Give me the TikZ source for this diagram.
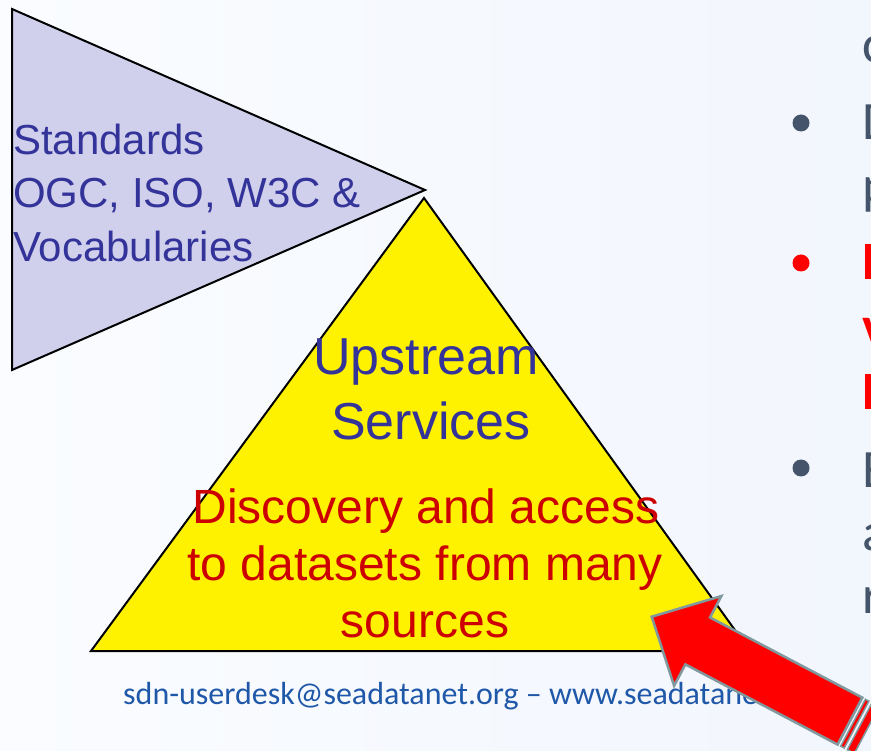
\documentclass[tikz,border=0pt]{standalone}
\usepackage{fontspec}
\setmainfont{Liberation Sans}
\newfontfamily\calib{Carlito}
\definecolor{bgl}{RGB}{250,252,255}
\definecolor{bgr}{RGB}{242,246,253}
\definecolor{lav}{RGB}{208,208,237}
\definecolor{dblue}{RGB}{51,51,153}
\definecolor{dred}{RGB}{204,0,0}
\definecolor{slate}{RGB}{68,84,106}
\definecolor{brightred}{RGB}{255,0,0}
\definecolor{footblue}{RGB}{31,88,168}
\definecolor{arrowgray}{RGB}{128,153,158}
\tikzset{
  tri/.style={draw=black, line width=2pt, line join=miter},
  lbl/.style={inner sep=0pt, anchor=base},
  lbll/.style={inner sep=0pt, anchor=base west},
  stdtxt/.style={lbll, text=dblue, font=\fontsize{42}{50}\selectfont},
  upstxt/.style={lbl, text=dblue, font=\fontsize{52}{62}\selectfont},
  redtxt/.style={lbl, text=dred, font=\fontsize{48}{57}\selectfont},
  rtxt/.style={lbll, text=slate, font=\calib\fontsize{54}{64}\selectfont},
  rtxtred/.style={lbll, text=brightred, font=\calib\bfseries\fontsize{54}{64}\selectfont},
  bul/.style={circle, inner sep=0pt, minimum size=17pt, fill=slate},
  bulred/.style={bul, fill=brightred},
  bigarrow/.style={draw=arrowgray, fill=brightred, line width=2.5pt, line join=miter},
  stripe/.style={draw=arrowgray, fill=brightred, line width=1.5pt, line join=miter}
}
\begin{document}
\begin{tikzpicture}[x=1pt,y=-1pt]
\useasboundingbox (0,0) rectangle (871,751);
\clip (0,0) rectangle (871,751);
\shade[left color=bgl, right color=bgr] (0,0) rectangle (871,751);

% triangles
\draw[tri, fill=lav] (12,9) -- (12,370) -- (425,190) -- cycle;
\draw[tri, fill=yellow] (424,198) -- (750,651) -- (91,651) -- cycle;

% standards text
\node[stdtxt] (std1) at (13,155) {Standards};
\node[stdtxt] (std2) at (13,208) {OGC, ISO, W3C \&};
\node[stdtxt] (std3) at (13,262) {Vocabularies};

% upstream services
\node[upstxt] (up1) at (426,375) {Upstream};
\node[upstxt] (up2) at (431,440) {Services};
\node[redtxt] (rd1) at (426,523) {Discovery and access};
\node[redtxt] (rd2) at (425,580) {to datasets from many};
\node[redtxt] (rd3) at (425,637) {sources};

% right side clipped text
\node[rtxt] (r1) at (862,63) {c};
\node[bul] (b1) at (801,123) {};
\node[rtxt] (r2) at (862,140) {D};
\node[rtxt] (r3) at (862,204) {p};
\node[bulred] (b2) at (801,263) {};
\node[rtxtred] (r4) at (862,280) {H};
\node[rtxtred] (r5) at (862,345) {v};
\node[rtxtred] (r6) at (862,410) {H};
\node[bul] (b3) at (801,468) {};
\node[rtxt] (r7) at (862,488) {E};
\node[rtxt] (r8) at (862,550) {a};
\node[rtxt] (r9) at (862,613) {r};

% footer
\node[lbll, text=footblue, font=\calib\fontsize{32}{38}\selectfont] (foot) at (123,704)
  {sdn-userdesk@seadatanet.org – www.seadatanet.org};

% striped arrow
\begin{scope}[shift={(651.7,616.7)}, x={(0.885pt,-0.466pt)}, y={(-0.466pt,-0.885pt)}]
  \draw[bigarrow] (0,0) -- (52,-50.7) -- (52,-26.5) -- (224,-26.5) -- (224,26.5)
     -- (52,26.5) -- (52,50.7) -- cycle;
  \draw[stripe] (227.5,-26.5) -- (231.5,-26.5) -- (231.5,26.5) -- (227.5,26.5) -- cycle;
  \draw[stripe] (235,-26.5) -- (243,-26.5) -- (243,26.5) -- (235,26.5) -- cycle;
\end{scope}
\end{tikzpicture}
\end{document}
